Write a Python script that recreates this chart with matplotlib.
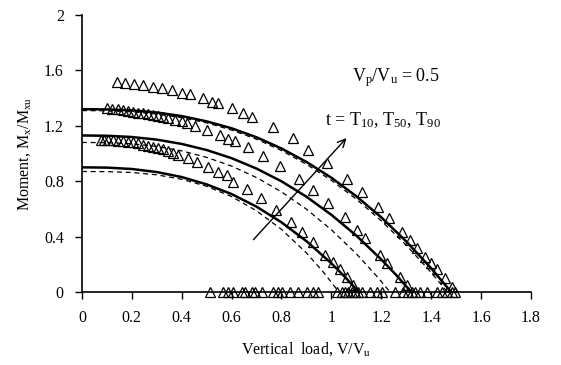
import numpy as np
import matplotlib
matplotlib.use("Agg")
import matplotlib.pyplot as plt
from matplotlib.ticker import FormatStrFormatter

plt.rcParams['font.family'] = ['Liberation Serif', 'DejaVu Serif']
plt.rcParams['mathtext.fontset'] = 'custom'
plt.rcParams['mathtext.rm'] = 'Liberation Serif'
plt.rcParams['mathtext.it'] = 'Liberation Serif:italic'

# 解析曲線 (實線)
solid_top_x = [0, 0.1, 0.2, 0.3, 0.4, 0.5, 0.6, 0.7, 0.8, 0.9, 1.0, 1.1, 1.2, 1.3, 1.4, 1.48]
solid_top_y = [1.32, 1.318, 1.311, 1.296, 1.270, 1.232, 1.182, 1.117, 1.036, 0.939, 0.825,
               0.691, 0.539, 0.365, 0.171, 0.0]
solid_mid_x = [0, 0.1, 0.2, 0.3, 0.4, 0.5, 0.6, 0.7, 0.8, 0.9, 1.0, 1.1, 1.2, 1.26, 1.32]
solid_mid_y = [1.13, 1.128, 1.119, 1.100, 1.069, 1.025, 0.966, 0.891, 0.799, 0.688, 0.557,
               0.407, 0.235, 0.122, 0.0]
solid_bot_x = [0, 0.1, 0.2, 0.3, 0.4, 0.5, 0.6, 0.7, 0.8, 0.9, 1.0, 1.05, 1.11]
solid_bot_y = [0.90, 0.898, 0.888, 0.866, 0.830, 0.777, 0.707, 0.616, 0.503, 0.367, 0.207,
               0.117, 0.0]

# 解析曲線 (虛線)
dash_top_x = [0, 0.1, 0.2, 0.3, 0.4, 0.5, 0.6, 0.7, 0.8, 0.9, 1.0, 1.1, 1.2, 1.3, 1.4, 1.465]
dash_top_y = [1.31, 1.308, 1.301, 1.285, 1.259, 1.221, 1.169, 1.103, 1.021, 0.922, 0.806,
              0.670, 0.514, 0.338, 0.141, 0.0]
dash_mid_x = [0, 0.1, 0.2, 0.3, 0.4, 0.5, 0.6, 0.7, 0.8, 0.9, 1.0, 1.1, 1.18, 1.235]
dash_mid_y = [1.08, 1.078, 1.070, 1.051, 1.019, 0.972, 0.909, 0.826, 0.723, 0.598, 0.449,
              0.276, 0.118, 0.0]
dash_bot_x = [0, 0.1, 0.2, 0.3, 0.4, 0.5, 0.6, 0.7, 0.8, 0.9, 0.97, 1.03]
dash_bot_y = [0.87, 0.869, 0.863, 0.846, 0.814, 0.763, 0.689, 0.586, 0.452, 0.282, 0.139, 0.0]

# 試驗資料 (三角形)
test1_x = [0.139, 0.172, 0.210, 0.246, 0.286, 0.322, 0.360, 0.400, 0.433, 0.486, 0.520, 0.547,
           0.600, 0.647, 0.680, 0.767, 0.847, 0.908, 0.984, 1.064, 1.124, 1.188, 1.232, 1.282,
           1.315, 1.344, 1.375, 1.399, 1.425, 1.455, 1.482]
test1_y = [1.518, 1.511, 1.502, 1.495, 1.482, 1.471, 1.458, 1.439, 1.427, 1.399, 1.374, 1.362,
           1.326, 1.295, 1.261, 1.194, 1.110, 1.025, 0.934, 0.816, 0.720, 0.611, 0.532, 0.435,
           0.375, 0.315, 0.255, 0.207, 0.164, 0.099, 0.038]
test2_x = [0.099, 0.12, 0.146, 0.165, 0.186, 0.205, 0.226, 0.246, 0.266, 0.286, 0.306, 0.326,
           0.346, 0.373, 0.400, 0.420, 0.453, 0.500, 0.553, 0.587, 0.613, 0.664, 0.727, 0.794,
           0.871, 0.927, 0.988, 1.055, 1.101, 1.135, 1.195, 1.224, 1.275, 1.304]
test2_y = [1.326, 1.323, 1.319, 1.314, 1.309, 1.302, 1.295, 1.290, 1.285, 1.278, 1.271, 1.263,
           1.254, 1.242, 1.232, 1.222, 1.199, 1.170, 1.134, 1.103, 1.092, 1.045, 0.982, 0.910,
           0.814, 0.736, 0.640, 0.539, 0.448, 0.388, 0.267, 0.207, 0.106, 0.051]
test3_x = [0.075, 0.09, 0.105, 0.125, 0.146, 0.166, 0.186, 0.206, 0.226, 0.246, 0.266, 0.286,
           0.306, 0.326, 0.346, 0.366, 0.386, 0.426, 0.460, 0.506, 0.547, 0.580, 0.607, 0.663,
           0.716, 0.778, 0.838, 0.883, 0.927, 0.974, 1.008, 1.034, 1.061, 1.088]
test3_y = [1.100, 1.099, 1.097, 1.095, 1.092, 1.089, 1.085, 1.080, 1.074, 1.064, 1.054, 1.046,
           1.037, 1.029, 1.020, 1.004, 0.989, 0.965, 0.941, 0.905, 0.869, 0.845, 0.796, 0.741,
           0.676, 0.592, 0.508, 0.435, 0.363, 0.267, 0.219, 0.164, 0.106, 0.051]
zero_x = [0.513, 0.567, 0.587, 0.607, 0.640, 0.654, 0.680, 0.694, 0.720, 0.767, 0.787, 0.801,
          0.834, 0.867, 0.901, 0.927, 0.947, 1.021, 1.041, 1.055, 1.068, 1.081, 1.095, 1.108,
          1.121, 1.155, 1.182, 1.202, 1.255, 1.288, 1.308, 1.322, 1.335, 1.355, 1.382, 1.422,
          1.442, 1.462, 1.482, 1.495]

x_ticks = [0, 0.2, 0.4, 0.6, 0.8, 1.0, 1.2, 1.4, 1.6, 1.8]
y_ticks = [0, 0.4, 0.8, 1.2, 1.6, 2.0]


def main():
    fig = plt.figure(figsize=(5.61, 3.65), dpi=100)
    ax = fig.add_axes([0.146, 0.2, 0.8005, 0.759])

    # 三角形資料點
    for tx, ty in [(test1_x, test1_y), (test2_x, test2_y), (test3_x, test3_y)]:
        ax.plot(tx, ty, linestyle="none", marker="^", markersize=7,
                markerfacecolor="none", markeredgecolor="black", markeredgewidth=0.9)
    ax.plot(zero_x, np.zeros(len(zero_x)), linestyle="none", marker="^", markersize=7,
            markerfacecolor="none", markeredgecolor="black", markeredgewidth=0.9,
            clip_on=False)

    # 實線與虛線
    for cx, cy in [(solid_top_x, solid_top_y), (solid_mid_x, solid_mid_y), (solid_bot_x, solid_bot_y)]:
        ax.plot(cx, cy, color="black", linewidth=1.8)
    for cx, cy in [(dash_top_x, dash_top_y), (dash_mid_x, dash_mid_y), (dash_bot_x, dash_bot_y)]:
        ax.plot(cx, cy, color="black", linewidth=0.9, dashes=(4, 3))

    # 箭頭
    ax.annotate("", xy=(1.068, 1.126), xytext=(0.68, 0.363),
                arrowprops=dict(arrowstyle="->", color="black", lw=1.0, mutation_scale=14))
    ax.text(1.26, 1.55, r"V$_\mathrm{p}$/V$_\mathrm{u}$ = 0.5", fontsize=13, ha="center", va="center")
    ax.text(0.975, 1.24, r"t = T$_\mathrm{10}$, T$_\mathrm{50}$, T$_\mathrm{90}$", fontsize=13,
            ha="left", va="center")

    ax.set_xlim(0, 1.8)
    ax.set_ylim(0, 2)
    ax.set_xticks(x_ticks)
    ax.set_yticks(y_ticks)
    ax.xaxis.set_major_formatter(FormatStrFormatter("%g"))
    ax.yaxis.set_major_formatter(FormatStrFormatter("%g"))
    ax.tick_params(direction="out", length=5, width=1, labelsize=11.5, pad=8)
    ax.spines["top"].set_visible(False)
    ax.spines["right"].set_visible(False)
    ax.spines["left"].set_linewidth(1.2)
    ax.spines["bottom"].set_linewidth(1.2)
    ax.set_xlabel(r"Vertical  load, V/V$_\mathrm{u}$", fontsize=11.5, labelpad=10)
    ax.set_ylabel(r"Moment, M$_\mathrm{x}$/M$_\mathrm{xu}$", fontsize=11.5, labelpad=8)

    fig.savefig("out.png", dpi=100)


main()
